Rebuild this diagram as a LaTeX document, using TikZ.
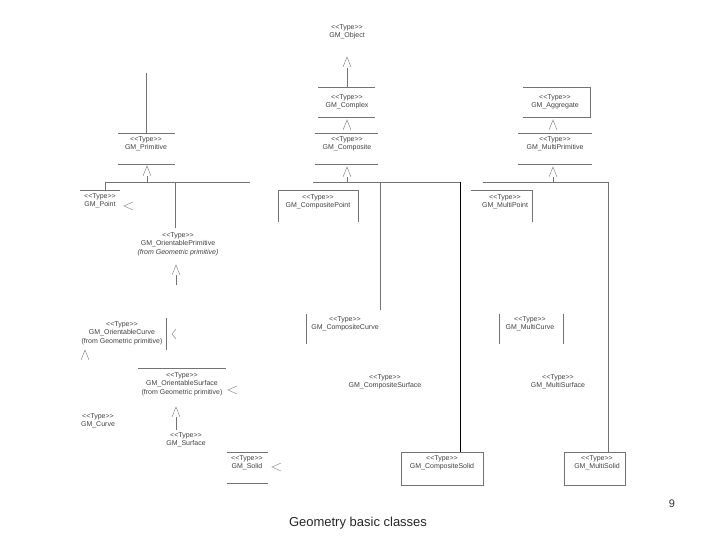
\documentclass[tikz,border=0pt]{standalone}
\usepackage{fontspec}
\setmainfont{Liberation Sans}
\begin{document}
\begin{tikzpicture}[x=1pt,y=-1pt,
  lbl/.style={font=\fontsize{7}{8.5}\selectfont,text=black!75,align=center,inner sep=0pt},
  ln/.style={draw=black!55,line width=0.6pt},
  tri/.style={draw=black!45,line width=0.5pt}]
\useasboundingbox (0,0) rectangle (720,540);
\newcommand\gtri[2]{\draw[tri] (#1-4,#2+5) -- (#1,#2-5) -- (#1+4,#2+5);}
\newcommand\ltri[2]{\draw[tri] (#1+5,#2-4) -- (#1-4,#2) -- (#1+5,#2+4);}
\newcommand\ty{{<}{<}Type{>}{>}}
% GM_Object
\node[lbl] (obj) at (347,32) {\ty\\GM\_Object};
\gtri{347}{62}
\draw[ln] (347,68) -- (347,87);
% Complex
\draw[ln] (318,87) -- (375,87) (318,117) -- (375,117);
\node[lbl] (cpx) at (347,102) {\ty\\GM\_Complex};
\gtri{347}{125}
\draw[ln] (315,133) -- (378,133) (315,164) -- (378,164);
\node[lbl] (cmp) at (347,144) {\ty\\GM\_Composite};
\gtri{347}{172}
\draw[ln] (347,177) -- (347,182) (313,182) -- (460,182);
% Primitive
\draw[ln] (146,73) -- (146,133);
\draw[ln] (118,133) -- (175,133) (118,164) -- (175,164);
\node[lbl] (prim) at (146,144) {\ty\\GM\_Primitive};
\gtri{147}{171}
\draw[ln] (147,176) -- (147,182) (105,182) -- (250,182) (105,182) -- (105,190) (175,182) -- (175,228);
% GM_Point
\draw[ln] (80,190) -- (120,190);
\node[lbl] (pt) at (100,201) {\ty\\GM\_Point};
\ltri{128}{206}
% Orientable primitive
\node[lbl] (op) at (178,244) {\ty\\GM\_OrientablePrimitive\\\itshape (from Geometric primitive)};
\gtri{176}{270}
\draw[ln] (176,275) -- (176,285);
% CompositePoint
\draw[ln] (278,222) -- (278,190) -- (358,190) -- (358,222);
\node[lbl] (cpt) at (318,202) {\ty\\GM\_CompositePoint};
% branches Composite
\draw[ln] (380,182) -- (380,310);
\draw[draw=black,line width=0.8pt] (460,182) -- (460,452);
% Orientable curve
\node[lbl] (oc) at (122,333) {\ty\\GM\_OrientableCurve\\(from Geometric primitive)};
\draw[ln] (166,318) -- (166,350);
\draw[tri] (176,329) -- (172,334) -- (176,339);
\gtri{85}{355}
% Orientable surface
\draw[ln] (138,368) -- (226,368);
\node[lbl] (os) at (182,384) {\ty\\GM\_OrientableSurface\\(from Geometric primitive)};
\ltri{232}{390}
\gtri{176}{412}
\draw[ln] (176,417) -- (176,430);
\node[lbl] (crv) at (98,421) {\ty\\GM\_Curve};
\node[lbl] (srf) at (186,440) {\ty\\GM\_Surface};
% Solid
\draw[ln] (227,452) -- (268,452) (227,483) -- (268,483);
\node[lbl] (sol) at (247,463) {\ty\\GM\_Solid};
\ltri{276}{467}
% Composite curve/surface/solid
\draw[ln] (306,314) -- (306,344);
\node[lbl] (cc) at (345,324) {\ty\\GM\_CompositeCurve};
\node[lbl] (cs) at (385,382) {\ty\\GM\_CompositeSurface};
\draw[ln] (401,452) rectangle (483,485);
\node[lbl] (csol) at (442,463) {\ty\\GM\_CompositeSolid};
% Aggregate
\draw[ln] (523,87) -- (590,87) -- (590,117) -- (523,117);
\node[lbl] (agg) at (555,102) {\ty\\GM\_Aggregate};
\gtri{553}{125}
\draw[ln] (518,133) -- (592,133) (518,164) -- (592,164);
\node[lbl] (mp) at (555,144) {\ty\\GM\_MultiPrimitive};
\gtri{553}{172}
\draw[ln] (553,177) -- (553,182) (483,182) -- (608,182) -- (608,452);
\draw[ln] (471,190) -- (532,190) -- (532,222);
\node[lbl] (mpt) at (505,202) {\ty\\GM\_MultiPoint};
\draw[ln] (499,314) -- (499,344) (563,314) -- (563,344);
\node[lbl] (mc) at (530,324) {\ty\\GM\_MultiCurve};
\node[lbl] (ms) at (558,382) {\ty\\GM\_MultiSurface};
\draw[ln] (564,452) rectangle (625,485);
\node[lbl] (msol) at (597,463) {\ty\\GM\_MultiSolid};
% footer
\node[font=\fontsize{11}{13}\selectfont,text=black!80] (num) at (672,504) {9};
\node[font=\fontsize{13}{15}\selectfont,text=black!85] (title) at (358,523) {Geometry basic classes};
\end{tikzpicture}
\end{document}
